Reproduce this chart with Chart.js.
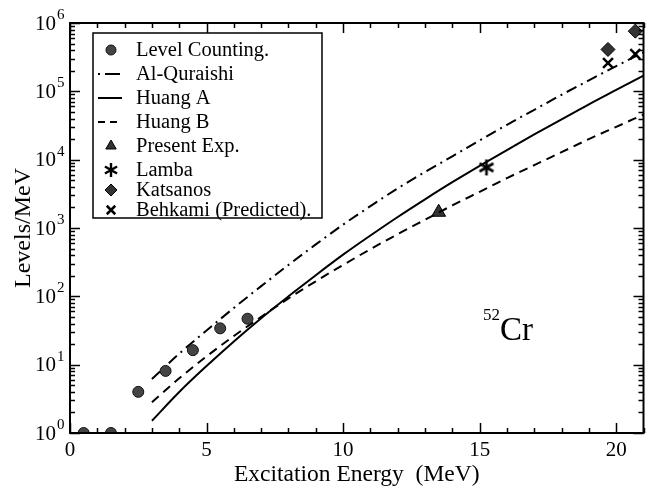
<!DOCTYPE html>
<html>
<head>
<meta charset="utf-8">
<script src="https://cdn.jsdelivr.net/npm/chart.js@4.4.0/dist/chart.umd.min.js"></script>
<style>
  html, body { margin: 0; padding: 0; background: #fff; }
  canvas { display: block; }
</style>
</head>
<body>
<canvas id="myChart" width="654" height="489"></canvas>
<script>
// level counting points
const countEnergy = [0.5, 1.5, 2.5, 3.5, 4.5, 5.5, 6.5];
const countLevels = [1, 1, 4.0, 8.1, 16.3, 34, 47];

// model curves
const curveEnergy = [3, 4, 5, 6, 7, 8, 9, 10, 11, 12, 13, 14, 15, 16, 17, 18, 19, 20, 21];
const alQuraishi = [6.17, 14.5, 31.6, 67.6, 141, 288, 575, 1120, 2090, 3800, 6610, 11200, 19100, 32400, 53700, 89100, 145000, 234000, 372000];
const huangA = [1.51, 3.98, 9.55, 21.9, 47.9, 100, 204, 407, 776, 1450, 2630, 4680, 8130, 13800, 23400, 38900, 64600, 105000, 170000];
const huangB = [2.82, 6.31, 13.2, 26.3, 50.1, 93.3, 166, 288, 490, 813, 1320, 2140, 3390, 5370, 8320, 12900, 20000, 30200, 45700];

// single measurements
const presentEnergy = [13.5];
const presentLevels = [1700];
const lambaEnergy = [15.25];
const lambaLevels = [7700];
const katsanosEnergy = [19.7, 20.7];
const katsanosLevels = [410000, 760000];
const behkamiEnergy = [19.7, 20.7];
const behkamiLevels = [260000, 350000];

const xTicks = [0, 5, 10, 15, 20];
const yDecades = [0, 1, 2, 3, 4, 5, 6];

const serif = '"Liberation Serif", "Times New Roman", serif';

function pts(xs, ys) {
  return xs.map((x, i) => ({ x: x, y: ys[i] }));
}

// six armed asterisk used for the Lamba point
function asterisk(r, w) {
  const c = document.createElement('canvas');
  c.width = c.height = Math.ceil(2 * r + 4);
  const g = c.getContext('2d');
  const m = c.width / 2;
  g.strokeStyle = '#000';
  g.lineWidth = w;
  g.beginPath();
  for (let k = 0; k < 3; k++) {
    const t = Math.PI / 2 + k * Math.PI / 3;
    g.moveTo(m + r * Math.cos(t), m + r * Math.sin(t));
    g.lineTo(m - r * Math.cos(t), m - r * Math.sin(t));
  }
  g.stroke();
  return c;
}
const starBig = asterisk(8, 2.6);
const starSmall = asterisk(7, 2.4);

const markerBase = {
  showLine: false,
  borderColor: '#000',
  backgroundColor: '#333',
};

const data = {
  datasets: [
    Object.assign({}, markerBase, {
      label: 'Level Counting.',
      data: pts(countEnergy, countLevels),
      pointStyle: 'circle', pointRadius: 5.5, borderWidth: 1,
      backgroundColor: '#444', borderColor: '#111',
    }),
    {
      label: 'Al-Quraishi',
      data: pts(curveEnergy, alQuraishi),
      borderColor: '#000', borderWidth: 2, borderDash: [11, 5, 2, 5],
      pointRadius: 0, cubicInterpolationMode: 'monotone', fill: false,
    },
    {
      label: 'Huang A',
      data: pts(curveEnergy, huangA),
      borderColor: '#000', borderWidth: 2,
      pointRadius: 0, cubicInterpolationMode: 'monotone', fill: false,
    },
    {
      label: 'Huang B',
      data: pts(curveEnergy, huangB),
      borderColor: '#000', borderWidth: 2, borderDash: [9, 6],
      pointRadius: 0, cubicInterpolationMode: 'monotone', fill: false,
    },
    Object.assign({}, markerBase, {
      label: 'Present Exp.',
      data: pts(presentEnergy, presentLevels),
      pointStyle: 'triangle', pointRadius: 8, borderWidth: 1,
    }),
    Object.assign({}, markerBase, {
      label: 'Lamba',
      data: pts(lambaEnergy, lambaLevels),
      pointStyle: starBig, pointRadius: 8, borderWidth: 2.5,
    }),
    Object.assign({}, markerBase, {
      label: 'Katsanos',
      data: pts(katsanosEnergy, katsanosLevels),
      pointStyle: 'rectRot', pointRadius: 7, borderWidth: 1,
    }),
    Object.assign({}, markerBase, {
      label: 'Behkami (Predicted).',
      data: pts(behkamiEnergy, behkamiLevels),
      pointStyle: 'crossRot', pointRadius: 7, borderWidth: 2.5,
    }),
  ]
};

// frame, inward ticks, y labels, legend box and the 52Cr note
const decorations = {
  id: 'decorations',
  afterDraw(chart) {
    const ctx = chart.ctx;
    const a = chart.chartArea;
    const xs = chart.scales.x;
    const ys = chart.scales.y;
    ctx.save();
    ctx.strokeStyle = '#000';
    ctx.fillStyle = '#000';

    // ticks
    ctx.lineWidth = 1.5;
    ctx.beginPath();
    for (let v = 0; v <= 21; v++) {
      const px = Math.round(xs.getPixelForValue(v)) + 0.5;
      const len = v % 5 === 0 ? 10 : 5;
      ctx.moveTo(px, a.bottom); ctx.lineTo(px, a.bottom - len);
      ctx.moveTo(px, a.top); ctx.lineTo(px, a.top + len);
    }
    yDecades.forEach(d => {
      for (let m = 1; m <= 9; m++) {
        if (d === 6 && m > 1) break;
        const py = Math.round(ys.getPixelForValue(m * Math.pow(10, d))) + 0.5;
        const len = m === 1 ? 10 : 5;
        ctx.moveTo(a.left, py); ctx.lineTo(a.left + len, py);
        ctx.moveTo(a.right, py); ctx.lineTo(a.right - len, py);
      }
    });
    ctx.stroke();

    // frame
    ctx.lineWidth = 2;
    ctx.strokeRect(a.left, a.top, a.right - a.left, a.bottom - a.top);

    // y tick labels 10^n
    yDecades.forEach(d => {
      const py = ys.getPixelForValue(Math.pow(10, d));
      ctx.font = '21px ' + serif;
      ctx.textAlign = 'right';
      ctx.textBaseline = 'middle';
      ctx.fillText('10', 56, py + 1);
      ctx.font = '15px ' + serif;
      ctx.textAlign = 'left';
      ctx.textBaseline = 'alphabetic';
      ctx.fillText(String(d), 57, py - 4);
    });

    // legend
    const bx = 93, by = 33, bw = 229, bh = 185;
    ctx.fillStyle = '#fff';
    ctx.fillRect(bx, by, bw, bh);
    ctx.lineWidth = 1.5;
    ctx.strokeStyle = '#000';
    ctx.strokeRect(bx, by, bw, bh);
    const rows = [50, 74, 98, 122, 146, 170, 190, 210];
    chart.data.datasets.forEach((ds, i) => {
      const y = rows[i];
      const cx = 111;
      ctx.strokeStyle = '#000';
      ctx.fillStyle = '#000';
      if (ds.pointRadius === 0) {
        ctx.beginPath();
        ctx.lineWidth = 2;
        ctx.setLineDash(ds.borderDash ? (i === 1 ? [2, 5, 15, 50] : [7, 5]) : []);
        ctx.moveTo(98, y); ctx.lineTo(122, y);
        ctx.stroke();
        ctx.setLineDash([]);
      } else {
        const style = ds.pointStyle === starBig ? starSmall : ds.pointStyle;
        ctx.fillStyle = ds.backgroundColor;
        ctx.strokeStyle = ds.borderColor;
        ctx.lineWidth = ds.borderWidth;
        Chart.helpers.drawPoint(ctx, {
          pointStyle: style,
          radius: ds.pointStyle === 'circle' ? 5 : 6,
          borderWidth: ds.borderWidth,
        }, cx, y);
      }
      ctx.fillStyle = '#000';
      ctx.font = '20.5px ' + serif;
      ctx.textAlign = 'left';
      ctx.textBaseline = 'middle';
      ctx.fillText(ds.label, 136, y + 1);
    });

    // nucleus label
    ctx.fillStyle = '#000';
    ctx.textAlign = 'left';
    ctx.textBaseline = 'alphabetic';
    ctx.font = '17px ' + serif;
    ctx.fillText('52', 483, 320);
    ctx.font = '33px ' + serif;
    ctx.fillText('Cr', 500, 340);

    ctx.restore();
  }
};

const config = {
  type: 'line',
  data: data,
  options: {
    responsive: false,
    animation: false,
    devicePixelRatio: 1,
    layout: { padding: { top: 23, right: 1, left: 0, bottom: 0 } },
    plugins: {
      legend: { display: false },
      tooltip: { enabled: false },
    },
    scales: {
      x: {
        type: 'linear',
        min: 0,
        max: 21,
        grid: { display: false, drawTicks: false },
        border: { display: false },
        afterBuildTicks: (scale) => { scale.ticks = xTicks.map(v => ({ value: v })); },
        afterFit: (scale) => { scale.height = 56; },
        ticks: {
          autoSkip: false, maxRotation: 0, padding: 5,
          color: '#000', font: { family: serif, size: 21 },
        },
        title: {
          display: true, text: 'Excitation Energy  (MeV)', color: '#000',
          font: { family: serif, size: 23.5 }, padding: { top: 0, bottom: 0 },
        },
      },
      y: {
        type: 'logarithmic',
        min: 1,
        max: 1000000,
        grid: { display: false, drawTicks: false },
        border: { display: false },
        ticks: { display: false },
        afterFit: (scale) => { scale.width = 70; },
        title: {
          display: true, text: 'Levels/MeV', color: '#000',
          font: { family: serif, size: 24 }, padding: { top: 9, bottom: 0 },
        },
      },
    },
  },
  plugins: [decorations],
};

const myChart = new Chart(document.getElementById('myChart'), config);
</script>
</body>
</html>
